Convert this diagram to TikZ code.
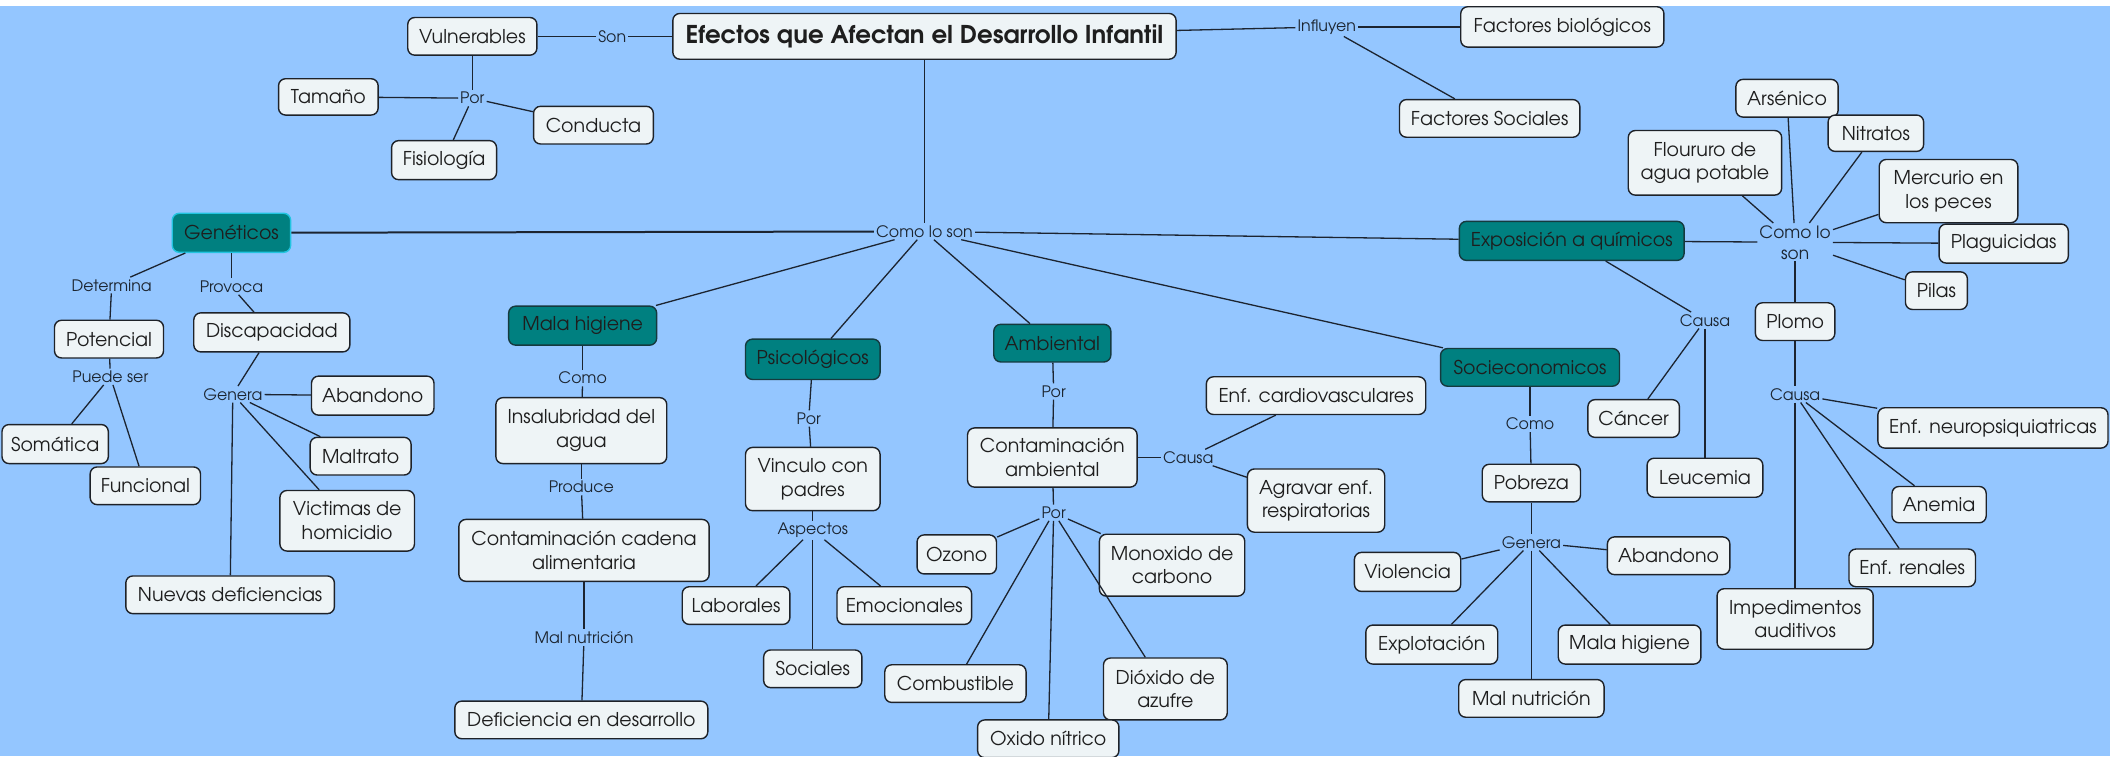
\documentclass[tikz,border=0pt]{standalone}
\usepackage{fontspec}
\setmainfont{TeX Gyre Adventor}
\definecolor{bg}{HTML}{94C6FF}
\definecolor{boxfill}{HTML}{EEF4F6}
\definecolor{boxdraw}{HTML}{1E2228}
\definecolor{tealc}{HTML}{008080}
\definecolor{tealdraw}{HTML}{153A3E}
\definecolor{gencyan}{HTML}{22C4E0}
\definecolor{txt}{HTML}{1E1E1E}
\definecolor{lbltxt}{HTML}{1C2530}
\definecolor{edgec}{HTML}{1C2430}
\tikzset{
 box/.style={draw=boxdraw, fill=boxfill, rounded corners=7pt, line width=1.4pt, inner xsep=3pt, inner ysep=2pt, align=center, font=\fontsize{19}{23.5}\selectfont, text=txt},
 tealbox/.style={box, fill=tealc, draw=tealdraw},
 lbl/.style={fill=bg, inner sep=2pt, font=\fontsize{15.8}{18}\selectfont, text=lbltxt, align=center},
 wh/.style 2 args={minimum width=#1*1.3457pt, minimum height=#2*1.3457pt},
 edge/.style={draw=edgec, line width=1.3pt},
}
\begin{document}
\begin{tikzpicture}[x=1.3457pt,y=-1.3457pt]
\useasboundingbox (0,0) rectangle (1568,562);
\fill[white] (0,0) rectangle (1568,562);
\fill[bg] (0,4.5) rectangle (1568,562);

% main
\node[box, wh={374}{34}, font=\fontsize{24.5}{28}\selectfont\bfseries] (title) at (687,27) {Efectos que Afectan el Desarrollo Infantil};
\node[box, wh={96}{28}] (vul) at (351,27) {Vulnerables};
\node[box, wh={74}{27}] (tam) at (244,72) {Tamaño};
\node[box, wh={89}{28}] (con) at (441,93) {Conducta};
\node[box, wh={78}{29}] (fis) at (330,119) {Fisiología};
\node[box, wh={151}{30}] (fbio) at (1161,20) {Factores biológicos};
\node[box, wh={134}{28}] (fsoc) at (1107,88) {Factores Sociales};

% categories
\node[tealbox, draw=gencyan, wh={88}{29}] (gen) at (172,173) {Genéticos};
\node[tealbox, wh={167}{29}] (expo) at (1168,179) {Exposición a químicos};
\node[tealbox, wh={110}{29}] (mala) at (433,242) {Mala higiene};
\node[tealbox, wh={100}{30}] (psi) at (604,267) {Psicológicos};
\node[tealbox, wh={87}{28}] (amb) at (782,255) {Ambiental};
\node[tealbox, wh={133}{28}] (soc) at (1137,273) {Socieconomicos};

% geneticos
\node[box, wh={81}{28}] (pot) at (81,252) {Potencial};
\node[box, wh={116}{29}] (dis) at (202,247) {Discapacidad};
\node[box, wh={79}{29}] (som) at (41,330) {Somática};
\node[box, wh={82}{28}] (fun) at (108,361) {Funcional};
\node[box, wh={91}{29}] (aban1) at (277,294) {Abandono};
\node[box, wh={75}{28}] (malt) at (268,339) {Maltrato};
\node[box, wh={100}{45}] (vic) at (258,387) {Victimas de\\homicidio};
\node[box, wh={155}{28}] (nue) at (171,442) {Nuevas deficiencias};

% mala higiene
\node[box, wh={127}{49}] (ins) at (432,320) {Insalubridad del\\agua};
\node[box, wh={186}{46}] (ccad) at (434,409) {Contaminación cadena\\alimentaria};
\node[box, wh={188}{28}] (def) at (432,535) {Deficiencia en desarrollo};

% psicologicos
\node[box, wh={100}{47}] (vin) at (604,356) {Vinculo con\\padres};
\node[box, wh={80}{28}] (lab) at (547,450) {Laborales};
\node[box, wh={100}{28}] (emo) at (672,450) {Emocionales};
\node[box, wh={73}{28}] (socs) at (604,497) {Sociales};

% ambiental
\node[box, wh={126}{44}] (camb) at (782,340) {Contaminación\\ambiental};
\node[box, wh={163}{28}] (card) at (978,294) {Enf. cardiovasculares};
\node[box, wh={102}{47}] (agr) at (978,372) {Agravar enf.\\respiratorias};
\node[box, wh={59}{29}] (ozo) at (711,412) {Ozono};
\node[box, wh={108}{46}] (mon) at (871,420) {Monoxido de\\carbono};
\node[box, wh={105}{28}] (comb) at (710,508) {Combustible};
\node[box, wh={92}{46}] (dio) at (866,512) {Dióxido de\\azufre};
\node[box, wh={105}{28}] (oxi) at (779,549) {Oxido nítrico};

% socieconomicos
\node[box, wh={73}{28}] (pob) at (1138,359) {Pobreza};
\node[box, wh={79}{29}] (vio) at (1046,425) {Violencia};
\node[box, wh={91}{28}] (aban2) at (1240,413) {Abandono};
\node[box, wh={98}{29}] (exp) at (1064,479) {Explotación};
\node[box, wh={106}{29}] (mh2) at (1211,479) {Mala higiene};
\node[box, wh={108}{28}] (mn) at (1138,519) {Mal nutrición};

% exposicion
\node[box, wh={68}{28}] (can) at (1214,311) {Cáncer};
\node[box, wh={86}{29}] (leu) at (1267,355) {Leucemia};
\node[box, wh={76}{28}] (ars) at (1328,73) {Arsénico};
\node[box, wh={71}{27}] (nit) at (1394,99) {Nitratos};
\node[box, wh={114}{48}] (flo) at (1267,121) {Floururo de\\agua potable};
\node[box, wh={103}{47}] (mer) at (1448,142) {Mercurio en\\los peces};
\node[box, wh={96}{29}] (pla) at (1489,181) {Plaguicidas};
\node[box, wh={46}{28}] (pil) at (1439,216) {Pilas};
\node[box, wh={59}{28}] (plo) at (1334,239) {Plomo};
\node[box, wh={171}{30}] (neu) at (1481,318) {Enf. neuropsiquiatricas};
\node[box, wh={70}{27}] (ane) at (1441,375) {Anemia};
\node[box, wh={94}{28}] (ren) at (1421,422) {Enf. renales};
\node[box, wh={116}{45}] (imp) at (1334,460) {Impedimentos\\auditivos};

% link labels
\node[lbl] (son) at (455,27) {Son};
\node[lbl] (por1) at (351,73) {Por};
\node[lbl] (inf) at (986,20) {Influyen};
\node[lbl] (como) at (687,172) {Como lo son};
\node[lbl] (det) at (83,212) {Determina};
\node[lbl] (prov) at (172,213) {Provoca};
\node[lbl] (pue) at (82,280) {Puede ser};
\node[lbl] (gena) at (173,293) {Genera};
\node[lbl] (como2) at (433,281) {Como};
\node[lbl] (prod) at (432,362) {Produce};
\node[lbl] (maln) at (434,474) {Mal nutrición};
\node[lbl] (por2) at (601,311) {Por};
\node[lbl] (asp) at (604,394) {Aspectos};
\node[lbl] (por3) at (783,291) {Por};
\node[lbl] (cau1) at (883,340) {Causa};
\node[lbl] (por4) at (783,381) {Por};
\node[lbl] (como3) at (1137,315) {Como};
\node[lbl] (genb) at (1138,403) {Genera};
\node[lbl] (cau2) at (1267,238) {Causa};
\node[lbl, font=\fontsize{17}{21}\selectfont] (como4) at (1334,180) {Como lo\\son};
\node[lbl] (cau3) at (1334,293) {Causa};

% edges
\draw[edge] (title) -- (son);
\draw[edge] (son) -- (vul);
\draw[edge] (vul) -- (por1);
\draw[edge] (por1) -- (tam);
\draw[edge] (por1) -- (con);
\draw[edge] (por1) -- (fis);
\draw[edge] (title) -- (inf);
\draw[edge] (inf) -- (fbio);
\draw[edge] (inf) -- (fsoc);
\draw[edge, line width=0.9pt] (title) -- (como);
\draw[edge, line width=2pt] (como) -- (gen);
\draw[edge] (como) -- (expo);
\draw[edge] (como) -- (mala);
\draw[edge] (como) -- (psi);
\draw[edge] (como) -- (amb);
\draw[edge] (como) -- (soc);
\draw[edge] (gen) -- (det);
\draw[edge] (det) -- (pot);
\draw[edge] (gen) -- (prov);
\draw[edge] (prov) -- (dis);
\draw[edge] (pot) -- (pue);
\draw[edge] (pue) -- (som);
\draw[edge] (pue) -- (fun);
\draw[edge] (dis) -- (gena);
\draw[edge] (gena) -- (aban1);
\draw[edge] (gena) -- (malt);
\draw[edge] (gena) -- (vic);
\draw[edge] (gena) -- (nue);
\draw[edge] (mala) -- (como2);
\draw[edge] (como2) -- (ins);
\draw[edge] (ins) -- (prod);
\draw[edge] (prod) -- (ccad);
\draw[edge] (ccad) -- (maln);
\draw[edge] (maln) -- (def);
\draw[edge] (psi) -- (por2);
\draw[edge] (por2) -- (vin);
\draw[edge] (vin) -- (asp);
\draw[edge] (asp) -- (lab);
\draw[edge] (asp) -- (emo);
\draw[edge] (asp) -- (socs);
\draw[edge] (amb) -- (por3);
\draw[edge] (por3) -- (camb);
\draw[edge] (camb) -- (cau1);
\draw[edge] (cau1) -- (card);
\draw[edge] (cau1) -- (agr);
\draw[edge] (camb) -- (por4);
\draw[edge] (por4) -- (ozo);
\draw[edge] (por4) -- (mon);
\draw[edge] (por4) -- (comb);
\draw[edge] (por4) -- (dio);
\draw[edge] (por4) -- (oxi);
\draw[edge] (soc) -- (como3);
\draw[edge] (como3) -- (pob);
\draw[edge] (pob) -- (genb);
\draw[edge] (genb) -- (vio);
\draw[edge] (genb) -- (aban2);
\draw[edge] (genb) -- (exp);
\draw[edge] (genb) -- (mh2);
\draw[edge] (genb) -- (mn);
\draw[edge] (expo) -- (cau2);
\draw[edge] (cau2) -- (can);
\draw[edge] (cau2) -- (leu);
\draw[edge] (expo) -- (como4);
\draw[edge] (como4) -- (ars);
\draw[edge] (como4) -- (nit);
\draw[edge] (como4) -- (flo);
\draw[edge] (como4) -- (mer);
\draw[edge] (como4) -- (pla);
\draw[edge] (como4) -- (pil);
\draw[edge] (como4) -- (plo);
\draw[edge] (plo) -- (cau3);
\draw[edge] (cau3) -- (neu);
\draw[edge] (cau3) -- (ane);
\draw[edge] (cau3) -- (ren);
\draw[edge] (cau3) -- (imp);
\end{tikzpicture}
\end{document}
